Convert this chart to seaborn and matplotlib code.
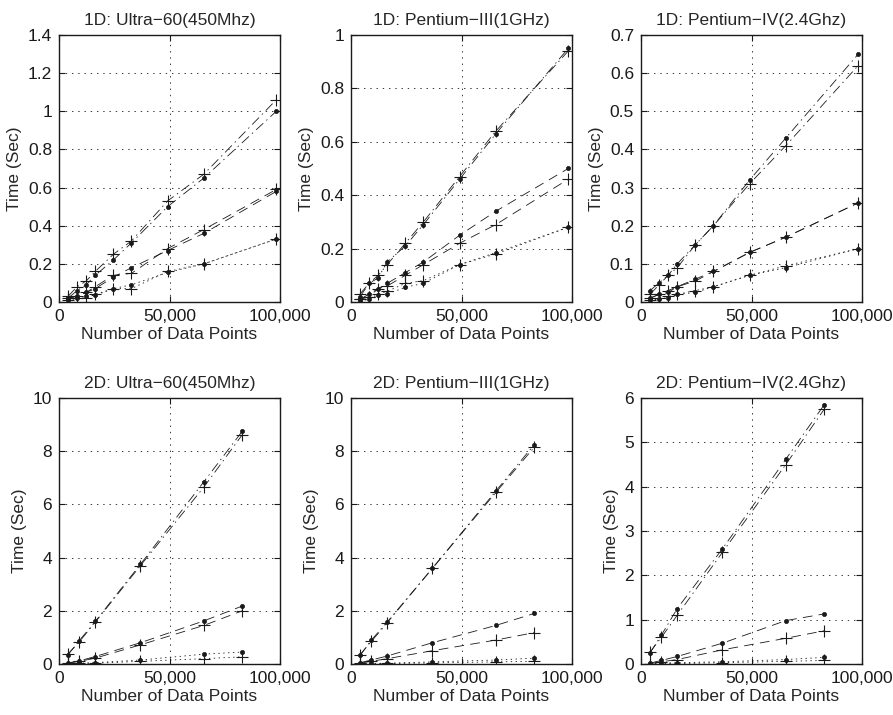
import numpy as np
import pandas as pd
import matplotlib
matplotlib.use("Agg")
import matplotlib.pyplot as plt
import seaborn as sns
from matplotlib.ticker import FuncFormatter, FixedLocator

# ---------------- data ----------------
x_1d = [4096, 8192, 12288, 16384, 24576, 32768, 49152, 65536, 98304]
x_2d = [4096, 9216, 16384, 36864, 65536, 82944]

titles = ["1D: Ultra\u221260(450Mhz)", "1D: Pentium\u2212III(1GHz)", "1D: Pentium\u2212IV(2.4Ghz)",
          "2D: Ultra\u221260(450Mhz)", "2D: Pentium\u2212III(1GHz)", "2D: Pentium\u2212IV(2.4Ghz)"]

# 1D Ultra-60
u1_dot_dot   = [0.01, 0.02, 0.03, 0.035, 0.07, 0.09, 0.155, 0.20, 0.33]
u1_dot_plus  = [0.01, 0.02, 0.02, 0.04, 0.07, 0.07, 0.16, 0.20, 0.33]
u1_dash_dot  = [0.02, 0.03, 0.05, 0.07, 0.13, 0.18, 0.27, 0.36, 0.58]
u1_dash_plus = [0.02, 0.03, 0.05, 0.08, 0.14, 0.15, 0.28, 0.38, 0.59]
u1_dd_dot    = [0.02, 0.06, 0.09, 0.14, 0.22, 0.31, 0.50, 0.65, 1.00]
u1_dd_plus   = [0.03, 0.08, 0.11, 0.16, 0.25, 0.32, 0.53, 0.67, 1.06]

# 1D Pentium-III
p3_dot_dot   = [0.005, 0.01, 0.025, 0.03, 0.055, 0.07, 0.14, 0.185, 0.28]
p3_dot_plus  = [0.01, 0.02, 0.03, 0.04, 0.07, 0.08, 0.14, 0.18, 0.28]
p3_dash_dot  = [0.01, 0.03, 0.05, 0.07, 0.11, 0.15, 0.25, 0.34, 0.50]
p3_dash_plus = [0.01, 0.02, 0.05, 0.06, 0.10, 0.14, 0.22, 0.29, 0.46]
p3_dd_dot    = [0.02, 0.07, 0.09, 0.15, 0.21, 0.29, 0.46, 0.63, 0.95]
p3_dd_plus   = [0.03, 0.07, 0.10, 0.14, 0.22, 0.30, 0.47, 0.64, 0.94]

# 1D Pentium-IV
p4_dot_dot   = [0.005, 0.008, 0.01, 0.02, 0.025, 0.04, 0.07, 0.09, 0.14]
p4_dot_plus  = [0.005, 0.01, 0.015, 0.02, 0.03, 0.04, 0.07, 0.095, 0.14]
p4_dash_dot  = [0.01, 0.02, 0.025, 0.04, 0.06, 0.08, 0.13, 0.17, 0.26]
p4_dash_plus = [0.01, 0.02, 0.03, 0.04, 0.055, 0.08, 0.13, 0.17, 0.26]
p4_dd_dot    = [0.03, 0.05, 0.07, 0.10, 0.15, 0.20, 0.32, 0.43, 0.65]
p4_dd_plus   = [0.02, 0.045, 0.07, 0.09, 0.15, 0.20, 0.31, 0.41, 0.62]

# 2D Ultra-60
u2_dot_dot   = [0.01, 0.03, 0.05, 0.15, 0.37, 0.45]
u2_dot_plus  = [0.01, 0.02, 0.03, 0.10, 0.20, 0.27]
u2_dash_dot  = [0.04, 0.12, 0.28, 0.80, 1.62, 2.18]
u2_dash_plus = [0.03, 0.10, 0.22, 0.72, 1.45, 2.00]
u2_dd_dot    = [0.35, 0.88, 1.60, 3.75, 6.85, 8.75]
u2_dd_plus   = [0.38, 0.84, 1.57, 3.70, 6.65, 8.62]

# 2D Pentium-III
q3_dot_dot   = [0.01, 0.02, 0.03, 0.08, 0.15, 0.22]
q3_dot_plus  = [0.005, 0.01, 0.02, 0.04, 0.08, 0.10]
q3_dash_dot  = [0.05, 0.15, 0.30, 0.80, 1.45, 1.90]
q3_dash_plus = [0.03, 0.10, 0.20, 0.50, 0.90, 1.18]
q3_dd_dot    = [0.32, 0.90, 1.58, 3.60, 6.50, 8.25]
q3_dd_plus   = [0.35, 0.85, 1.55, 3.60, 6.45, 8.15]

# 2D Pentium-IV
q4_dot_dot   = [0.01, 0.02, 0.03, 0.05, 0.10, 0.15]
q4_dot_plus  = [0.005, 0.01, 0.01, 0.03, 0.06, 0.08]
q4_dash_dot  = [0.02, 0.08, 0.17, 0.47, 0.98, 1.13]
q4_dash_plus = [0.01, 0.05, 0.10, 0.32, 0.58, 0.75]
q4_dd_dot    = [0.25, 0.65, 1.25, 2.60, 4.62, 5.85]
q4_dd_plus   = [0.27, 0.60, 1.10, 2.52, 4.50, 5.75]

panel_series = [
    [u1_dot_dot, u1_dot_plus, u1_dash_dot, u1_dash_plus, u1_dd_dot, u1_dd_plus],
    [p3_dot_dot, p3_dot_plus, p3_dash_dot, p3_dash_plus, p3_dd_dot, p3_dd_plus],
    [p4_dot_dot, p4_dot_plus, p4_dash_dot, p4_dash_plus, p4_dd_dot, p4_dd_plus],
    [u2_dot_dot, u2_dot_plus, u2_dash_dot, u2_dash_plus, u2_dd_dot, u2_dd_plus],
    [q3_dot_dot, q3_dot_plus, q3_dash_dot, q3_dash_plus, q3_dd_dot, q3_dd_plus],
    [q4_dot_dot, q4_dot_plus, q4_dash_dot, q4_dash_plus, q4_dd_dot, q4_dd_plus],
]
y_max = [1.4, 1.0, 0.7, 10, 10, 6]
y_step = [0.2, 0.2, 0.1, 2, 2, 1]
x_ticks = [0, 50000, 100000]

# ---------------- style ----------------
sns.set_theme(style="ticks")
plt.rcParams['font.family'] = ['Liberation Sans', 'DejaVu Sans']
plt.rcParams['axes.linewidth'] = 1.0
plt.rcParams['lines.scale_dashes'] = False
FS = 12.5

styles = [((0, (1, 2.5)), '.'), ((0, (1, 2.5)), '+'),
          ((0, (7, 4.5)), '.'), ((0, (7, 4.5)), '+'),
          ((0, (7, 3, 1, 3)), '.'), ((0, (7, 3, 1, 3)), '+')]

fig = plt.figure(figsize=(8.93, 7.15), dpi=100)
W, H = 893, 715
lefts = [59, 351, 641]
aw = 221
rows = [(35, 302), (398, 664)]

for i in range(6):
    r, c = divmod(i, 3)
    top, bot = rows[r]
    ax = fig.add_axes([lefts[c] / W, 1 - bot / H, aw / W, (bot - top) / H])
    xs = x_1d if r == 0 else x_2d
    for ys, (ls, mk) in zip(panel_series[i], styles):
        df = pd.DataFrame({"n": xs, "t": ys})
        if mk == '+':
            sns.lineplot(data=df, x="n", y="t", ax=ax, color='k', linestyle=ls,
                         linewidth=0.6, marker='+', markersize=9,
                         markeredgecolor='k', markeredgewidth=0.8,
                         errorbar=None, sort=False)
        else:
            sns.lineplot(data=df, x="n", y="t", ax=ax, color='k', linestyle=ls,
                         linewidth=0.6, marker='o', markersize=3,
                         markeredgecolor='k', markerfacecolor='k', markeredgewidth=0.5,
                         errorbar=None, sort=False)
    ax.set_xlim(0, 100000)
    ax.set_ylim(0, y_max[i])
    ax.xaxis.set_major_locator(FixedLocator(x_ticks))
    ax.yaxis.set_major_locator(FixedLocator(np.arange(0, y_max[i] + 1e-9, y_step[i])))
    ax.xaxis.set_major_formatter(FuncFormatter(lambda v, p: f"{int(round(v)):,}"))
    ax.yaxis.set_major_formatter(FuncFormatter(lambda v, p: f"{round(v, 6):g}"))
    ax.grid(True, color='k', linestyle=(0, (1, 3.5)), linewidth=0.6)
    ax.tick_params(direction='in', length=4, width=0.8, labelsize=FS, pad=5,
                   top=True, right=True, colors='k')
    for s in ax.spines.values():
        s.set_visible(True)
        s.set_color('k')
        s.set_linewidth(1.0)
    ax.set_facecolor('white')
    ax.set_title(titles[i], fontsize=FS, pad=7)
    ax.set_xlabel("Number of Data Points", fontsize=FS, labelpad=2)
    ax.set_ylabel("Time (Sec)", fontsize=FS, labelpad=4)

fig.savefig("out.png", dpi=100, facecolor='white')
